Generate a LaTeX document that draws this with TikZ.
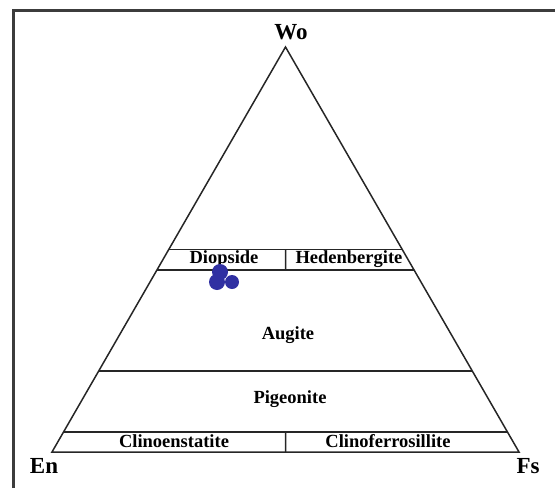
\documentclass[tikz,border=0pt]{standalone}
\usepackage{fontspec}
\setmainfont{Liberation Serif}
\usepackage{xcolor}
\usetikzlibrary{calc}

\definecolor{dotblue}{RGB}{48,48,162}
\definecolor{framegray}{RGB}{60,60,60}

\begin{document}
\begin{tikzpicture}[x=1pt, y=-1pt,
	corner/.style={font=\bfseries\fontsize{23}{25}\selectfont},
	field/.style={font=\bfseries\fontsize{18.5}{20}\selectfont},
	border/.style={line width=1.5pt, draw=black!85}]
	\useasboundingbox (0,0) rectangle (555,488);
	\draw[line width=3pt, framegray] (13,488) -- (13,10) -- (555,10);

	% corners of the triangle
	\coordinate (en) at (52,452);
	\coordinate (fs) at (519,452);
	\coordinate (wo) at (285.5,47);

	% composition lines
	\coordinate (l5)  at ($(en)!0.05!(wo)$);
	\coordinate (r5)  at ($(fs)!0.05!(wo)$);
	\coordinate (l20) at ($(en)!0.20!(wo)$);
	\coordinate (r20) at ($(fs)!0.20!(wo)$);
	\coordinate (l45) at ($(en)!0.45!(wo)$);
	\coordinate (r45) at ($(fs)!0.45!(wo)$);
	\coordinate (l50) at ($(en)!0.50!(wo)$);
	\coordinate (r50) at ($(fs)!0.50!(wo)$);

	\draw[border] (en) -- (fs) -- (wo) -- cycle;
	\draw[border] (l5) -- (r5);
	\draw[border] (l20) -- (r20);
	\draw[border] (l45) -- (r45);
	\draw[border] (l50) -- (r50);
	\draw[border] ($(l5)!0.5!(r5)$) -- ($(en)!0.5!(fs)$);
	\draw[border] ($(l45)!0.5!(r45)$) -- ($(l50)!0.5!(r50)$);

	% labels
	\node[corner] (wolabel) at (291,32) {Wo};
	\node[corner] (enlabel) at (44,466) {En};
	\node[corner] (fslabel) at (528,466) {Fs};

	\node[field] (diopside) at (224,259) {Diopside};
	\node[field] (hedenbergite) at (349,259) {Hedenbergite};
	\node[field] (augite) at (288,335) {Augite};
	\node[field] (pigeonite) at (290,399) {Pigeonite};
	\node[field] (clinoen) at (174,441) {Clinoenstatite};
	\node[field] (clinofs) at (388,441) {Clinoferrosillite};

	% analyses
	\fill[dotblue] (220,272) circle (8);
	\fill[dotblue] (217,282) circle (8);
	\fill[dotblue] (232,282) circle (7);
\end{tikzpicture}
\end{document}
